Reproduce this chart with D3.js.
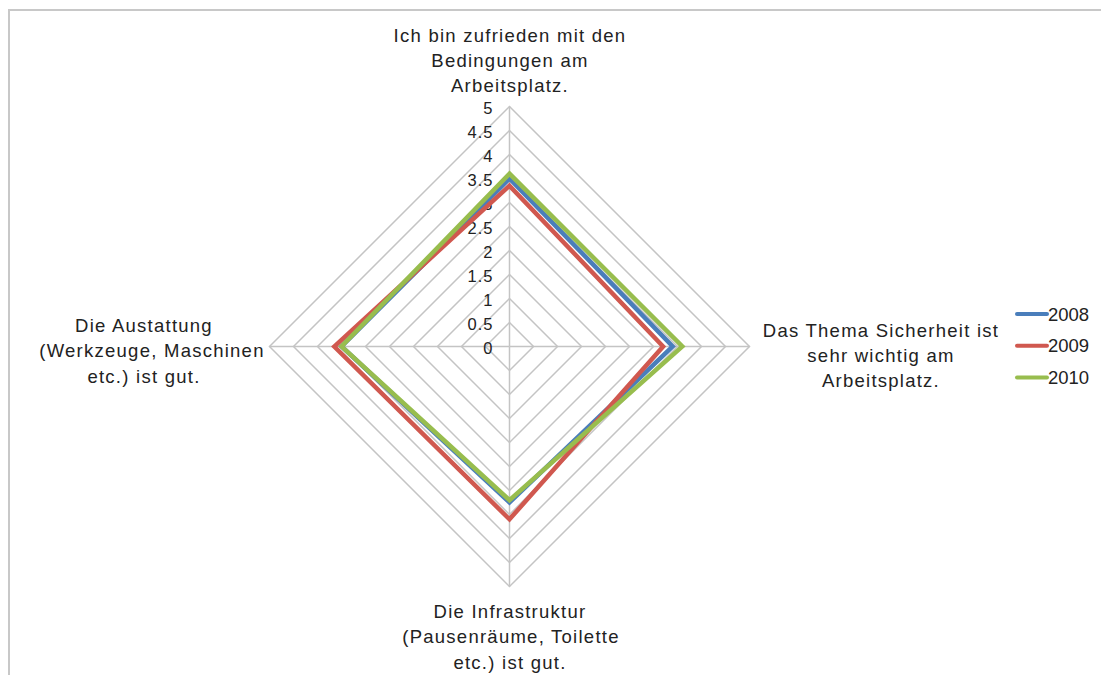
<!DOCTYPE html>
<html>
<head>
<meta charset="utf-8">
<script src="https://cdn.jsdelivr.net/npm/d3@7/dist/d3.min.js"></script>
<style>
  html, body { margin: 0; padding: 0; background: #fff; }
  svg { display: block; font-family: "Liberation Sans", Arial, Helvetica, sans-serif; }
  text { white-space: pre; }
</style>
</head>
<body>
<svg id="chart" width="1101" height="675"></svg>
<script>
// Survey statements (clockwise from the top)
const categories = [
  ["Ich bin zufrieden mit den", "Bedingungen am", "Arbeitsplatz."],
  ["Das Thema Sicherheit ist", "sehr wichtig am", "Arbeitsplatz."],
  ["Die Infrastruktur", "(Pausenräume, Toilette", "etc.) ist gut."],
  ["Die Austattung", "(Werkzeuge, Maschinen", "etc.) ist gut."]
];

// Average rating per statement and year
const years = ["2008", "2009", "2010"];
const values2008 = [3.5, 3.4, 3.25, 3.5];
const values2009 = [3.35, 3.2, 3.6, 3.65];
const values2010 = [3.6, 3.6, 3.2, 3.5];

// Radial tick labels
const tickValues = [0, 0.5, 1, 1.5, 2, 2.5, 3, 3.5, 4, 4.5, 5];
const tickLabels = ["0", "0.5", "1", "1.5", "2", "2.5", "3", "3.5", "4", "4.5", "5"];

const seriesColors = ["#4A7EBB", "#D0584F", "#98BD4E"];
const series = [values2008, values2009, values2010];

const svg = d3.select("#chart");
const cx = 509.5, cy = 346.5;
const r = d3.scaleLinear().domain([0, 5]).range([0, 240]);
const angle = d3.scaleLinear().domain([0, categories.length]).range([0, 2 * Math.PI]);

function pt(i, v) {
  const a = angle(i);
  return [cx + r(v) * Math.sin(a), cy - r(v) * Math.cos(a)];
}

// Outer frame
svg.append("rect")
  .attr("x", 9).attr("y", 10)
  .attr("width", 1300).attr("height", 900)
  .attr("fill", "none")
  .attr("stroke", "#c8c8c8")
  .attr("stroke-width", 2);

// Grid rings
const gridG = svg.append("g");
tickValues.slice(1).forEach(t => {
  gridG.append("path")
    .attr("d", d3.line()(categories.map((c, i) => pt(i, t))) + "Z")
    .attr("fill", "none")
    .attr("stroke", "#c4c4c4")
    .attr("stroke-width", 1.5);
});

// Spokes
categories.forEach((c, i) => {
  const [x, y] = pt(i, 5);
  gridG.append("line")
    .attr("x1", cx).attr("y1", cy)
    .attr("x2", x).attr("y2", y)
    .attr("stroke", "#c4c4c4")
    .attr("stroke-width", 1.5);
});

// Tick labels along the vertical axis
svg.append("g").selectAll("text")
  .data(tickValues)
  .join("text")
  .attr("x", cx - 16)
  .attr("y", d => cy - r(d) + 7)
  .attr("text-anchor", "end")
  .attr("font-size", 16.5)
  .attr("letter-spacing", 1)
  .attr("fill", "#222")
  .text((d, i) => tickLabels[i]);

// Data series
const lineGen = d3.line();
series.forEach((vals, k) => {
  svg.append("path")
    .attr("d", lineGen(vals.map((v, i) => pt(i, v))) + "Z")
    .attr("fill", "none")
    .attr("stroke", seriesColors[k])
    .attr("stroke-width", 4.5)
    .attr("stroke-linejoin", "miter");
});

// Category labels
const labelLayout = [
  { y: 41.5, lineX: [510, 510, 510] },
  { y: 336.5, lineX: [881, 881, 881] },
  { y: 618, lineX: [510, 511, 510] },
  { y: 332, lineX: [144, 152, 144] }
];
const labG = svg.append("g")
  .attr("font-size", 18.5)
  .attr("letter-spacing", 1.25)
  .attr("fill", "#222")
  .attr("text-anchor", "middle");
categories.forEach((lines, i) => {
  const L = labelLayout[i];
  lines.forEach((s, j) => {
    labG.append("text")
      .attr("x", L.lineX[j])
      .attr("y", L.y + j * 25.3)
      .text(s);
  });
});

// Legend
const legend = svg.append("g");
years.forEach((yr, k) => {
  const y = 314 + k * 31.7;
  legend.append("line")
    .attr("x1", 1017).attr("x2", 1047)
    .attr("y1", y).attr("y2", y)
    .attr("stroke", seriesColors[k])
    .attr("stroke-width", 4)
    .attr("stroke-linecap", "round");
  legend.append("text")
    .attr("x", 1048)
    .attr("y", y + 6.5)
    .attr("font-size", 18.5)
    .attr("fill", "#222")
    .text(yr);
});
</script>
</body>
</html>
